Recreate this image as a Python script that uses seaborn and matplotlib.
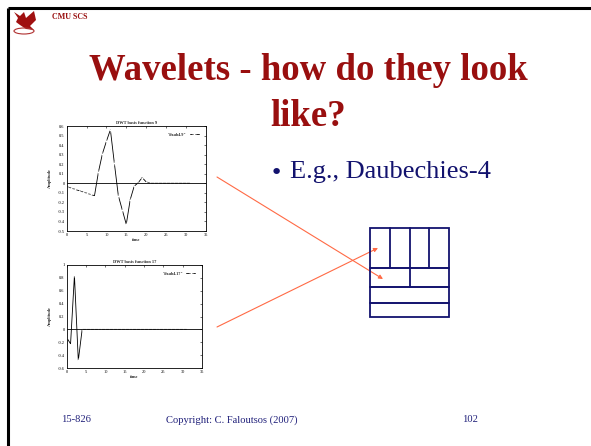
import numpy as np
import pandas as pd
import seaborn as sns
import matplotlib
matplotlib.use("Agg")
import matplotlib.pyplot as plt
from matplotlib.patches import Polygon, Ellipse

sns.set_theme(style="white")
plt.rcParams['font.family'] = ['Liberation Serif', 'DejaVu Serif']

# ---- data -------------------------------------------------------------
time_steps = list(range(32))
basis9 = [-0.035, -0.049, -0.062, -0.076, -0.090, -0.103, -0.117, -0.130,
          0.12, 0.31, 0.44, 0.56, 0.21, -0.13, -0.28, -0.43,
          -0.17, -0.03, 0.005, 0.06, 0.015, 0.0, 0.0, 0.0,
          0.0, 0.0, 0.0, 0.0, 0.0, 0.0, 0.0, 0.0]
basis17 = [-0.129, -0.224, 0.837, -0.483] + [0.0] * 28

plot9_title = "DWT basis function 9"
plot17_title = "DWT basis function 17"
legend9 = '"daub4.9"'
legend17 = '"daub4.17"'
x_ticks = [0, 5, 10, 15, 20, 25, 30, 35]
y_ticks9 = [-0.5, -0.4, -0.3, -0.2, -0.1, 0, 0.1, 0.2, 0.3, 0.4, 0.5, 0.6]
y_ticks17 = [-0.6, -0.4, -0.2, 0, 0.2, 0.4, 0.6, 0.8, 1.0]

# tiling of the time-frequency plane: cells per row, and row heights
tiling_cells = [4, 2, 1, 1]
tiling_heights = [40, 20, 15.5, 14.5]

title_lines = ["Wavelets - how do they look", "like?"]
bullet_text = "E.g., Daubechies-4"
footer_left = "15-826"
footer_mid = "Copyright: C. Faloutsos (2007)"
footer_right = "102"
header_text = "CMU SCS"

RED = "#990f0f"
NAVY = "#12126e"
FOOT = "#20207a"
ARROW = "#ff6a45"

W, H = 591, 446
fig = plt.figure(figsize=(W / 100, H / 100), dpi=100)
fig.patch.set_facecolor("white")


def px_axes(x0, y0, x1, y1, **kw):
    """Axes placed by pixel box (top-left origin)."""
    return fig.add_axes([x0 / W, 1 - y1 / H, (x1 - x0) / W, (y1 - y0) / H], **kw)


# ---- slide frame ------------------------------------------------------
bg = fig.add_axes([0, 0, 1, 1])
bg.set_xlim(0, W)
bg.set_ylim(H, 0)
bg.axis("off")
bg.plot([8, W], [8, 8], color="black", lw=2.2, solid_capstyle="butt")
bg.plot([8, 8], [8, H], color="black", lw=2.2, solid_capstyle="butt")

# small griffin-like logo
bg.add_patch(Polygon([[14, 12], [20, 16], [24, 12], [26, 18], [34, 11], [36, 20],
                      [30, 26], [34, 30], [26, 29], [20, 25], [16, 22], [18, 18]],
                     closed=True, color="#a01010", lw=0))
bg.add_patch(Ellipse((24, 31), 20, 6, fill=False, ec="#b03030", lw=0.8))

bg.text(52, 17, header_text, color=RED, fontsize=5.8, fontweight="bold",
        va="center", ha="left")
for line, y in zip(title_lines, [70, 116]):
    bg.text(308, y, line, color=RED, fontsize=26.5, fontweight="bold",
            ha="center", va="center")
bg.text(270, 173, "\u2022", color=NAVY, fontsize=16, ha="left", va="center",
        family=["DejaVu Sans"])
bg.text(290, 172, bullet_text, color=NAVY, fontsize=19, ha="left", va="center")

bg.text(61, 420, footer_left, color=FOOT, fontsize=7.6, ha="left", va="center")
bg.text(232, 420, footer_mid, color=FOOT, fontsize=7.6, ha="center", va="center")
bg.text(470, 420, footer_right, color=FOOT, fontsize=7.6, ha="center", va="center")


# ---- the two basis-function plots -------------------------------------
def basis_plot(ax, values, yticks, ylim, title, label):
    df = pd.DataFrame({"time": time_steps, "Amplitude": values})
    sns.lineplot(data=df, x="time", y="Amplitude", ax=ax, color="black",
                 lw=0.6, marker="+", markersize=2.2, markeredgewidth=0.4,
                 label=label)
    ax.axhline(0, color="black", lw=0.6)
    ax.set_xlim(0, 35)
    ax.set_ylim(*ylim)
    ax.set_xticks(x_ticks)
    ax.set_yticks(yticks)
    ax.set_yticklabels([("%g" % v) for v in yticks])
    ax.tick_params(direction="in", length=1.5, width=0.4, labelsize=3.2,
                   top=True, right=True, pad=1.5, colors="black")
    for s in ax.spines.values():
        s.set_linewidth(0.6)
        s.set_color("black")
    ax.set_title(title, fontsize=3.2, pad=1.5, fontweight="bold")
    ax.set_xlabel("time", fontsize=3.2, labelpad=0.5, fontweight="bold")
    ax.set_ylabel("Amplitude", fontsize=3.2, labelpad=4, fontweight="bold")
    leg = ax.legend(loc="upper right", fontsize=3, frameon=False,
                    handlelength=2.2, borderaxespad=1.2, markerfirst=False)
    for t in leg.get_texts():
        t.set_fontweight("bold")
    ax.set_facecolor("white")


ax9 = px_axes(66.7, 126, 205.7, 231)
basis_plot(ax9, basis9, y_ticks9, (-0.5, 0.6), plot9_title, legend9)

ax17 = px_axes(66.7, 265, 202, 368)
basis_plot(ax17, basis17, y_ticks17, (-0.6, 1.0), plot17_title, legend17)

# ---- tiling diagram ---------------------------------------------------
axd = px_axes(370, 228, 449, 317)
total = sum(tiling_heights)
axd.set_xlim(0, 1)
axd.set_ylim(total, 0)
axd.axis("off")
axd.add_patch(plt.Rectangle((0, 0), 1, total, fill=False, ec=NAVY, lw=1.3,
                            clip_on=False))
top = 0.0
for n, h in zip(tiling_cells, tiling_heights):
    if top > 0:
        axd.plot([0, 1], [top, top], color=NAVY, lw=1.4, clip_on=False)
    for k in range(1, n):
        axd.plot([k / n, k / n], [top, top + h], color=NAVY, lw=1.3, clip_on=False)
    top += h

# ---- arrows from plots to the tiling ----------------------------------
bg.annotate("", xy=(383, 279), xytext=(217, 177),
            arrowprops=dict(arrowstyle="-|>", color=ARROW, lw=0.8,
                            mutation_scale=6, shrinkA=0, shrinkB=0))
bg.annotate("", xy=(378, 248), xytext=(217, 327),
            arrowprops=dict(arrowstyle="-|>", color=ARROW, lw=0.8,
                            mutation_scale=6, shrinkA=0, shrinkB=0))

fig.savefig("out.png", dpi=100, facecolor="white")
